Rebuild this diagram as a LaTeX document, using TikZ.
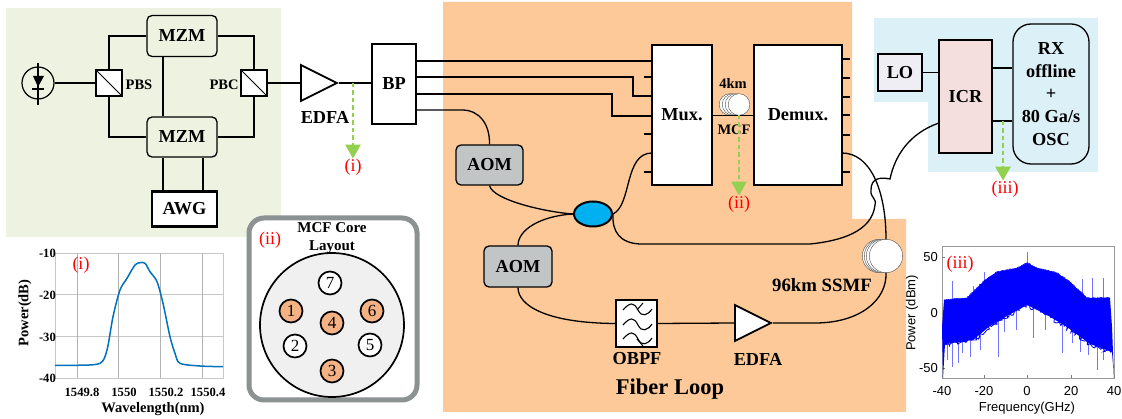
\documentclass[tikz,border=0pt]{standalone}
\usepackage{fontspec}
\setmainfont{Liberation Serif}
\setsansfont{Liberation Sans}
\usepackage{xcolor}
\usetikzlibrary{shapes,arrows.meta,decorations.pathmorphing}
\definecolor{txgreen}{RGB}{237,243,224}
\definecolor{loopor}{RGB}{253,201,152}
\definecolor{rxblue}{RGB}{220,240,248}
\definecolor{tapgreen}{RGB}{146,208,80}
\definecolor{aomgray}{RGB}{193,197,198}
\definecolor{couplerblue}{RGB}{0,176,240}
\definecolor{coreor}{RGB}{244,177,131}
\definecolor{framegray}{RGB}{140,145,145}
\definecolor{tracecol}{RGB}{0,114,189}
\tikzset{
  bigtxt/.style={font=\fontsize{18.3}{22.7}\selectfont\bfseries,inner sep=0,align=center},
  smalltxt/.style={font=\fontsize{14.5}{18}\selectfont\bfseries,inner sep=0,align=center},
  ticktxt/.style={font=\fontsize{12.6}{15}\selectfont\bfseries,inner sep=0},
  sanstxt/.style={font=\fontsize{13}{15}\selectfont\sffamily,inner sep=0},
  redtxt/.style={font=\fontsize{18}{20}\selectfont,text=red,inner sep=0},
  rbox/.style={draw,line width=1.3pt,rounded corners=5pt,bigtxt},
  sqbox/.style={draw,line width=1.3pt,bigtxt},
  split/.style={draw,line width=1.4pt,fill=white,minimum size=26pt,inner sep=0},
  amp/.style={isosceles triangle,isosceles triangle apex angle=52,isosceles triangle stretches,draw,line width=1.8pt,fill=white,minimum width=36pt,minimum height=36pt,inner sep=0,anchor=apex},
  fib/.style={line width=1.3pt},
  tap/.style={draw=tapgreen,line width=2.3pt,dash pattern=on 4.5pt off 3pt,-{Triangle[length=14pt,width=15pt]}},
  spool/.style={circle,draw=black!70,line width=0.4pt,fill=white,inner sep=0},
  core/.style={circle,draw,line width=1.7pt,minimum size=23pt,inner sep=0,font=\fontsize{17}{18}\selectfont},
}
\begin{document}
\begin{tikzpicture}[x=1pt,y=-1pt,>=stealth]
    \useasboundingbox (0,0) rectangle (1122,419);
    \fill[txgreen] (6,8) rectangle (281,237);
    \fill[loopor] (443,2) -- (852,2) -- (852,219) -- (906,219) -- (906,412) -- (443,412) -- cycle;
    \fill[rxblue] (874,18) -- (1098,18) -- (1098,172) -- (928,172) -- (928,102) -- (874,102) -- cycle;

    \node[circle,draw,line width=1.2pt,minimum size=32pt,inner sep=0] (pd) at (38,83) {};
    \node[split] (pbs) at (109,83) {};
    \node[split] (pbc) at (254,83) {};
    \node[rbox,minimum width=70pt,minimum height=41pt] (mzma) at (182,36) {MZM};
    \node[rbox,minimum width=70pt,minimum height=40pt] (mzmb) at (182,137) {MZM};
    \node[sqbox,line width=2.4pt,fill=white,minimum width=65pt,minimum height=35pt] (awg) at (184.5,209) {AWG};
    \node[smalltxt] (pbsl) at (139,85) {PBS};
    \node[smalltxt] (pbcl) at (224,85) {PBC};
    \node[amp] (edfa) at (339,83) {};
    \node[bigtxt] (edfal) at (325,117) {EDFA};
    \node[sqbox,fill=white,minimum width=44pt,minimum height=80pt] (bp) at (394,84) {BP};
    \node[redtxt] (labi) at (353,167) {(i)};

    \coordinate (pdt) at (38,63);
    \coordinate (pdb) at (38,105);
    \draw[line width=1.2pt] (pdt) to [] (pdb);
    \fill (33,76) -- (44,76) -- (38,87) -- cycle;
    \draw[line width=1.4pt] (32,89) -- (44,89);
    \draw[line width=1pt] (pbs.north west) -- (pbs.south east);
    \draw[line width=1pt] (pbc.north west) -- (pbc.south east);

    \draw [fib] (pd) to [] (pbs);
    \draw [fib] (pbs.north) |- (mzma.west |- 0,36);
    \draw [fib] (pbs.south) |- (mzmb.west);
    \draw [fib] (pbc.north) |- (mzma.east);
    \draw [fib] (pbc.south) |- (mzmb.east);
    \draw [fib] (mzma.south -| 163,0) to [] (mzmb.north -| 163,0);
    \draw [fib] (mzmb.south -| 163,0) to [] (awg.north -| 163,0);
    \draw [fib] (mzmb.south -| 203,0) to [] (awg.north -| 203,0);
    \draw [fib] (pbc.east) to [] (edfa.lower side);
    \draw [fib] (edfa.apex) to [] (bp.west |- edfa.apex);

    \node[sqbox,fill=white,minimum width=60pt,minimum height=140pt] (mux) at (682,115) {Mux.};
    \node[sqbox,fill=white,minimum width=88pt,minimum height=140pt] (demux) at (798,115) {Demux.};
    \node[rbox,fill=aomgray,minimum width=67pt,minimum height=40pt] (aoma) at (489.5,165) {AOM};
    \node[rbox,fill=aomgray,minimum width=68pt,minimum height=41pt] (aomb) at (518,266.5) {AOM};
    \node[ellipse,draw,line width=2pt,fill=couplerblue,minimum width=38pt,minimum height=25pt,inner sep=0] (cpl) at (593,214) {};
    \node[smalltxt] (kml) at (733,83) {4km};
    \node[smalltxt] (mcfl) at (734,130) {MCF};
    \foreach \n/\x in {a/730,b/733,c/736,d/739}
        \node[spool,minimum size=21.6pt] (mcf\n) at (\x,104.5) {};
    \foreach \n/\y in {1/61,2/77,3/96,4/116,5/134,6/153,7/172} {
        \coordinate (mi\n) at (652,\y);
        \coordinate (ms\n) at (644,\y);
    }
    \foreach \n/\y in {1/59,2/78,3/97,4/115,5/135,6/153,7/172} {
        \coordinate (do\n) at (842,\y);
        \coordinate (ds\n) at (850,\y);
    }
    \foreach \n in {2,5,7} \draw [fib] (ms\n) to [] (mi\n);
    \foreach \n in {1,...,5,7} \draw [fib] (do\n) to [] (ds\n);
    \coordinate (bpa) at (416,61);
    \coordinate (bpb) at (416,77);
    \coordinate (bpc) at (416,94);
    \coordinate (bpd) at (416,110);
    \draw [fib] (bpa) to [] (mi1);
    \draw [fib] (bpb) -| (633,96) -- (mi3);
    \draw [fib] (bpc) -| (612,116) -- (mi4);
    \draw [fib] (bpd) -- (462,110) .. controls (480,110) and (490,125) .. (aoma.north);
    \draw [fib] (mux.east |- mcfd.south) -- (demux.west |- mcfd.south);
    \draw [fib] (aoma.south) .. controls (493,200) and (545,212) .. (cpl.west);
    \draw [fib] (aomb.north) .. controls (518,230) and (540,216) .. (cpl.west);
    \draw [fib] (cpl.east) .. controls (632,205) and (624,153) .. (mi6);

    \node[spool,minimum size=33.4pt] (ssmfa) at (879,256) {};
    \node[spool,minimum size=33.4pt] (ssmfb) at (881,256) {};
    \node[spool,minimum size=33.4pt] (ssmfc) at (883,256) {};
    \node[spool,minimum size=33.4pt] (ssmfd) at (886,256) {};
    \node[sqbox,fill=white,minimum width=41pt,minimum height=47pt] (obpf) at (636.5,323.5) {};
    \node[bigtxt] (obpfl) at (637,359) {OBPF};
    \node[amp] (edfb) at (773,323) {};
    \node[bigtxt] (edfbl) at (758,359) {EDFA};
    \node[smalltxt,font=\fontsize{18.8}{20}\selectfont\bfseries] (ssmfl) at (822,285) {96km SSMF};
    \node[bigtxt,font=\fontsize{22.5}{24}\selectfont\bfseries] (loopl) at (670,389) {Fiber Loop};
    \foreach \y in {310,325,339}
        \draw[line width=1.1pt] (623,\y) .. controls (630,\y-8) and (634,\y-8) .. (638,\y) .. controls (642,\y+8) and (648,\y+5) .. (652,\y-1);
    \draw[line width=1pt] (637,310) -- (643,303);
    \draw[line width=1pt] (637,339) -- (643,346);

    \draw [fib] (aomb.south) .. controls (518,305) and (545,323) .. (obpf.west);
    \draw [fib] (obpf.east) to [] (edfb.lower side);
    \draw [fib] (edfb.apex) -- (815,323) .. controls (860,323) and (887,300) .. (ssmfd.south);
    \draw [fib] (do6) .. controls (870,153) and (886,190) .. (ssmfd.north);

    \node[sqbox,fill={rgb,255:red,240;green,238;blue,245},minimum width=44pt,minimum height=37pt] (lo) at (900,72.5) {LO};
    \node[sqbox,fill={rgb,255:red,245;green,222;blue,222},minimum width=53pt,minimum height=113pt] (icr) at (965.5,96.5) {ICR};
    \node[rbox,rounded corners=18pt,minimum width=76pt,minimum height=140pt] (rx) at (1051,94) {RX\\offline\\+\\80 Ga/s\\OSC};
    \node[redtxt] (labiii) at (1005,189) {(iii)};
    \node[redtxt] (labii) at (739,204) {(ii)};
    \draw [fib] (lo.east) to [] (icr.west |- lo.east);
    \draw [fib] (icr.east |- 0,68) to [] (rx.west |- 0,68);
    \draw [fib] (icr.east |- 0,121) to [] (rx.west |- 0,121);

    \coordinate (lpa) at (890,179);
    \coordinate (lpb) at (871,190);
    \coordinate (lpc) at (875,205);
    \coordinate (lpd) at (810,244);
    \coordinate (lpe) at (640,244);
    \coordinate (icrin) at (939,123);
    \draw [fib] (icrin) .. controls (910,133) and (895,155) .. (lpa) .. controls (880,177) and (871,178) .. (lpb) .. controls (870,198) and (877,198) .. (lpc) .. controls (872,232) and (840,241) .. (lpd) -- (lpe) .. controls (620,243) and (612,232) .. (cpl.east);

    \coordinate (tapi) at (353,83);
    \coordinate (tapii) at (739,115);
    \coordinate (tapiii) at (1003,121);
    \draw [tap] (tapi) to [] (labi.north);
    \draw [tap] (tapii) to [] (labii.north);
    \draw [tap] (tapiii) to [] (labiii.north -| tapiii);

    \draw[black!22,line width=0.6pt] (55,253) -- (223,253) -- (223,378) -- (55,378) -- cycle;
    \foreach \y in {295,337} \draw[black!22,line width=1pt] (55,\y) -- (223,\y);
    \foreach \x in {77,118,160,202} \draw[black!30,line width=0.6pt] (\x,253) -- (\x,378);
    \draw[tracecol,line width=1.5pt] plot[smooth,tension=0.5] coordinates {(55,365.3) (77,365.3) (100,363.3) (107,350) (113,316.7) (120,290) (127,278.3) (135,265) (140,262.7) (145,263.3) (150,271.7) (157,281.7) (163,303.3) (170,336.7) (175,353.3) (180,363.3) (200,366) (223,366.7)};
    \foreach \l/\y in {-10/253,-20/295,-30/337,-40/378} \node[ticktxt,anchor=east] (ty\l) at (56,\y) {\l};
    \foreach \l/\x in {1549.8/82,1550/124,1550.2/166,1550.4/208} \node[ticktxt] (tx\l) at (\x,392) {\l};
    \node[smalltxt] (wavel) at (153,409) {Wavelength(nm)};
    \node[smalltxt,rotate=90] (powl) at (25,313) {Power(dB)};
    \node[redtxt] (lpi) at (81,265) {(i)};

    \node[draw=framegray,line width=5pt,rounded corners=15pt,fill=white,minimum width=168pt,minimum height=182pt,inner sep=0] (panel) at (333,309) {};
    \node[circle,draw,line width=1.7pt,fill=black!6,minimum size=144pt,inner sep=0] (fibre) at (332,325) {};
    \node[smalltxt,font=\fontsize{15}{18}\selectfont\bfseries] (mcft) at (332,238) {MCF Core\\Layout};
    \node[redtxt] (lpii) at (270,240) {(ii)};
    \foreach \n/\x/\y/\c in {7/330/283/white,1/291/311/coreor,6/372/311/coreor,4/332/323/coreor,2/295/346/white,5/370/345/white,3/332/371/coreor}
        \node[core,fill=\c] (core\n) at (\x,\y) {\n};

    \draw[black!40,line width=0.6pt] (942,246) rectangle (1114,378);
    \foreach \x/\l in {942/-40,984/-20,1027/0,1071/20,1114/40} {
        \draw[black!50,line width=0.5pt] (\x,378) -- (\x,375);
        \node[sanstxt] (fx\l) at (\x,391) {\l};
    }
    \foreach \y/\l in {257/50,313/0,368/-50} {
        \draw[black!50,line width=0.5pt] (942,\y) -- (945,\y);
        \node[sanstxt,anchor=east] (fy\l) at (938,\y) {\l};
    }
    \foreach \x/\a/\b in {952/281/300,973/286/298,984/272/282,1027/252/265,1082/279/295,1092/278/300,1103/278/300,947/360/330,952/367/330,958/363/330,962/353/330,970/357/330,980/350/325,998/357/320,1004/332/310,1016/330/305,1033/338/305,1045/330/305,1062/353/320,1072/343/320,1080/352/325,1088/355/330,1097/370/340,1103/360/340}
        \draw[blue!55,line width=0.7pt] (\x,\a) -- (\x,\b);
    \fill[blue] (944,300) -- (967,298) -- (985,280) -- (997,272) -- (1017,268) -- (1027,263) -- (1037,268) -- (1057,273) -- (1070,282) -- (1087,298) -- (1110,298) -- (1112,327) -- (1114,378) -- (1112,352) -- (1090,344) -- (1067,327) -- (1047,315) -- (1027,305) -- (1007,316) -- (990,326) -- (973,340) -- (945,344) -- (943,378) -- (942,327) -- cycle;
    \pgfmathsetseed{7}
    \draw[blue,line width=0.8pt,decorate,decoration={random steps,segment length=1.5pt,amplitude=2.5pt}] (1112,352) -- (1090,344) -- (1067,327) -- (1047,315) -- (1027,305) -- (1007,316) -- (990,326) -- (973,340) -- (945,344);
    \draw[blue,line width=0.6pt,decorate,decoration={random steps,segment length=1.5pt,amplitude=0.6pt}] (944,300) -- (967,298) -- (985,280) -- (997,272) -- (1017,268) -- (1027,263) -- (1037,268) -- (1057,273) -- (1070,282) -- (1087,298) -- (1110,298);
    \node[sanstxt] (freql) at (1027,408) {Frequency(GHz)};
    \node[sanstxt,rotate=90] (powr) at (912,313) {Power (dBm)};
    \node[redtxt] (lpiii) at (960,264) {(iii)};
\end{tikzpicture}
\end{document}
